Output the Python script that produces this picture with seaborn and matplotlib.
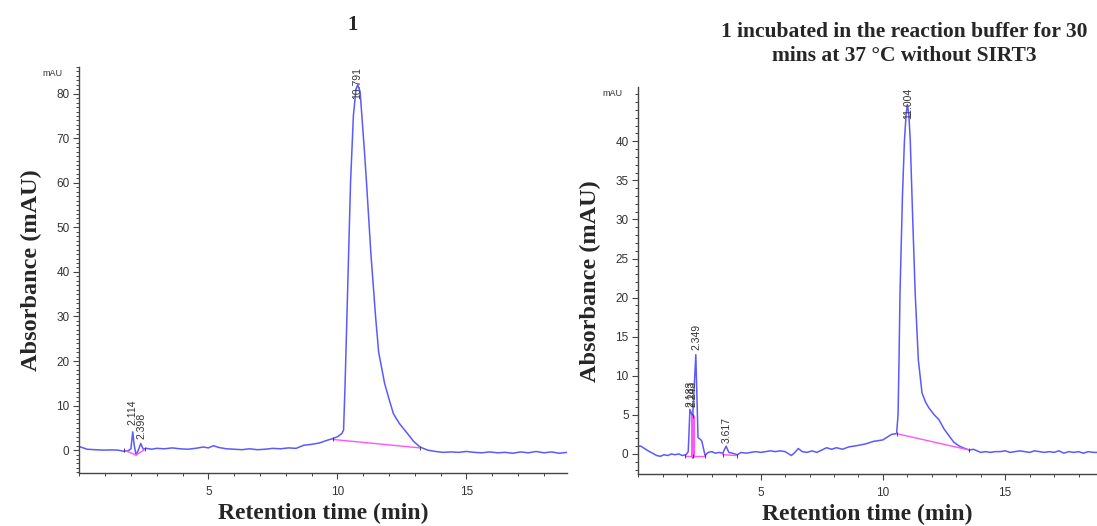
## HPLC traces of compound 1, before and after incubation in buffer
import matplotlib
matplotlib.use('Agg')
import matplotlib.pyplot as plt
from matplotlib.ticker import MultipleLocator
import seaborn as sns
import pandas as pd

# ---- data ----
left_time = [0.0, 0.15, 0.3, 0.6, 0.9, 1.2, 1.5, 1.75, 1.9, 2.0, 2.07, 2.13, 2.2, 2.3, 2.38, 2.48,
             2.6, 2.8, 3.0, 3.3, 3.6, 3.9, 4.2, 4.5, 4.8, 5.0, 5.2, 5.4, 5.7, 6.0, 6.3, 6.6, 6.9,
             7.2, 7.5, 7.8, 8.1, 8.4, 8.7, 9.0, 9.3, 9.6, 9.82, 10.0, 10.17, 10.24, 10.3, 10.37,
             10.51, 10.62, 10.72, 10.79, 10.88, 10.95, 11.05, 11.13, 11.3, 11.48, 11.6, 11.83,
             12.0, 12.17, 12.4, 12.72, 12.95, 13.2, 13.5, 13.8, 14.1, 14.4, 14.7, 15.0, 15.3,
             15.6, 15.9, 16.2, 16.5, 16.8, 17.1, 17.4, 17.7, 18.0, 18.3, 18.6, 18.9]
left_abs = [0.8, 0.5, 0.2, 0.1, 0.0, 0.05, 0.0, -0.3, -0.1, 0.3, 4.1, 1.0, -1.1, 0.2, 1.5, 0.2,
            0.4, 0.2, 0.4, 0.3, 0.5, 0.3, 0.2, 0.4, 0.7, 0.5, 1.0, 0.6, 0.3, 0.2, 0.1, 0.3, 0.1,
            0.2, 0.4, 0.3, 0.5, 0.4, 1.1, 1.3, 1.6, 2.2, 2.6, 3.0, 3.7, 4.5, 15, 30,
            60, 75, 81, 82, 80.5, 75, 67, 60, 44, 30, 22, 15,
            11.5, 8.2, 6.0, 3.7, 2.0, 0.7, 0.0, -0.3, -0.5, -0.4, -0.5, -0.3, -0.5,
            -0.6, -0.4, -0.6, -0.5, -0.7, -0.4, -0.6, -0.3, -0.6, -0.4, -0.7, -0.5]

right_time = [0.0, 0.1, 0.2, 0.4, 0.58, 0.75, 0.9, 1.05, 1.2, 1.35, 1.5, 1.65, 1.8, 1.95, 2.04,
              2.11, 2.17, 2.22, 2.35, 2.44, 2.52, 2.59, 2.73, 2.85, 3.0, 3.15, 3.3, 3.45, 3.59,
              3.7, 3.85, 4.05, 4.2, 4.4, 4.6, 4.8, 5.0, 5.2, 5.4, 5.6, 5.8, 6.0, 6.26, 6.4, 6.54,
              6.7, 6.9, 7.1, 7.3, 7.5, 7.7, 7.9, 8.1, 8.35, 8.6, 8.8, 9.0, 9.31, 9.6, 9.8, 10.0,
              10.2, 10.35, 10.56, 10.62, 10.66, 10.7, 10.8, 10.88, 10.95, 11.0, 11.06, 11.12,
              11.22, 11.32, 11.45, 11.6, 11.75, 11.88, 12.1, 12.29, 12.5, 12.71, 12.9, 13.13,
              13.35, 13.54, 13.7, 13.85, 14.0, 14.2, 14.4, 14.6, 14.8, 15.0, 15.2, 15.4, 15.6,
              15.8, 16.0, 16.2, 16.4, 16.6, 16.8, 17.0, 17.2, 17.4, 17.6, 17.8, 18.0, 18.2,
              18.4, 18.6, 18.76]
right_abs = [1.0, 1.0, 0.8, 0.4, 0.1, -0.2, -0.3, -0.1, -0.2, 0.0, -0.1, 0.0, -0.2, -0.1, 0.3,
             5.7, 5.2, 4.6, 12.7, 2.1, 1.9, 1.7, -0.2, 0.2, 0.3, 0.1, 0.2, 0.1, 1.0,
             0.2, 0.1, -0.1, 0.2, 0.1, 0.2, 0.3, 0.2, 0.3, 0.4, 0.3, 0.4, 0.3, -0.2, 0.2, 0.7,
             0.3, 0.2, 0.4, 0.2, 0.5, 0.8, 0.6, 0.8, 0.6, 0.9, 1.0, 1.1, 1.3, 1.6, 1.7, 1.8,
             2.2, 2.5, 2.6, 5.0, 12.0, 20.6, 33.0, 40.0, 43.5, 44.7, 43.5, 40.0,
             30.0, 20.6, 12.0, 7.8, 6.6, 5.9, 5.0, 4.4, 3.2, 2.3, 1.5, 1.0,
             0.7, 0.5, 0.6, 0.4, 0.2, 0.3, 0.2, 0.3, 0.3, 0.4, 0.2, 0.3, 0.4,
             0.3, 0.2, 0.4, 0.3, 0.2, 0.3, 0.2, 0.4, 0.1, 0.3, 0.2, 0.3, 0.1,
             0.3, 0.2, 0.2]

# integration baselines (pink), as (time list, absorbance list)
left_base = [([1.74, 2.2, 2.55], [0.0, -1.1, 0.2]),
             ([9.82, 13.2], [2.4, 0.5])]
right_base = [([1.9, 2.73], [-0.2, -0.2]),
              ([2.19, 2.19], [-0.2, 4.8]),
              ([2.24, 2.24], [-0.2, 4.8]),
              ([3.45, 4.05], [-0.1, -0.2]),
              ([10.56, 13.54], [2.6, 0.5])]

# peak labels: text, time, absorbance at label centre
left_peaks = [('2.114', 2.05, 8.4), ('2.398', 2.42, 5.4), ('10.791', 10.76, 82.3)]
right_peaks = [('2.183', 2.12, 7.7), ('2.243', 2.22, 7.7), ('2.349', 2.38, 15.0),
               ('3.617', 3.6, 3.1), ('11.004', 11.05, 44.8)]

left_yticks = [0, 10, 20, 30, 40, 50, 60, 70, 80]
right_yticks = [0, 5, 10, 15, 20, 25, 30, 35, 40]
xticks = [5, 10, 15]

sns.set_style('ticks')
serif = ['Liberation Serif', 'DejaVu Serif']
sans = ['Liberation Sans', 'DejaVu Sans']
plt.rcParams['font.family'] = sans

TRACE = '#5a5aff'
PINK = '#ff55ff'
GREY = '#444444'

fig = plt.figure(figsize=(10.97, 5.26), dpi=100)
ax1 = fig.add_axes([0.0723, 0.1002, 0.4446, 0.7724])
ax2 = fig.add_axes([0.5819, 0.0983, 0.4182, 0.7357])


def draw_panel(ax, t, a, bases, peaks, xlim, ylim, yticks):
    df = pd.DataFrame({'t': t, 'a': a})
    sns.lineplot(data=df, x='t', y='a', ax=ax, color=TRACE, lw=1.1, sort=False)
    for bt, ba in bases:
        lw = 2.2 if bt[0] == bt[-1] else 1.0
        ax.plot(bt, ba, color=PINK, lw=lw)
        ax.plot([bt[0], bt[-1]], [ba[0], ba[-1]], ls='none', marker='|',
                ms=3, mew=0.6, color='#333333')
    for txt, x, y in peaks:
        ax.text(x, y, txt, rotation=90, ha='center', va='center',
                fontsize=7.5, color='#333333')
    ax.set_xlim(*xlim)
    ax.set_ylim(*ylim)
    ax.set_xticks(xticks)
    ax.set_yticks(yticks)
    ax.xaxis.set_minor_locator(MultipleLocator(1))
    ax.yaxis.set_minor_locator(MultipleLocator(1))
    sns.despine(ax=ax)
    for s in ('left', 'bottom'):
        ax.spines[s].set_color(GREY)
        ax.spines[s].set_linewidth(1.0)
    ax.tick_params(which='major', length=4, width=0.8, color=GREY,
                   labelsize=8.5, labelcolor='#333333', pad=3)
    ax.tick_params(axis='x', which='major', pad=5)
    ax.tick_params(which='minor', length=2.5, width=0.7, color=GREY)
    ax.set_xlabel('Retention time (min)', family=serif, fontweight='bold',
                  fontsize=17, labelpad=4)
    ax.set_ylabel('Absorbance (mAU)', family=serif, fontweight='bold',
                  fontsize=17.5, labelpad=10)
    ax.text(-0.035, 0.985, 'mAU', transform=ax.transAxes, ha='right', va='center',
            fontsize=6.5, color='#333333')


draw_panel(ax1, left_time, left_abs, left_base, left_peaks, (0, 18.9), (-5.2, 86), left_yticks)
draw_panel(ax2, right_time, right_abs, right_base, right_peaks, (0, 18.76), (-2.6, 46.9), right_yticks)

fig.text(353 / 1097, 1 - 25 / 526, '1', family=serif, fontweight='bold',
         fontsize=15, ha='center', va='center')
fig.text(904 / 1097, 1 - 44 / 526,
         '1 incubated in the reaction buffer for 30\nmins at 37 °C without SIRT3',
         family=serif, fontweight='bold', fontsize=15.5, ha='center', va='center',
         linespacing=1.25)

fig.savefig('out.png', dpi=100)
